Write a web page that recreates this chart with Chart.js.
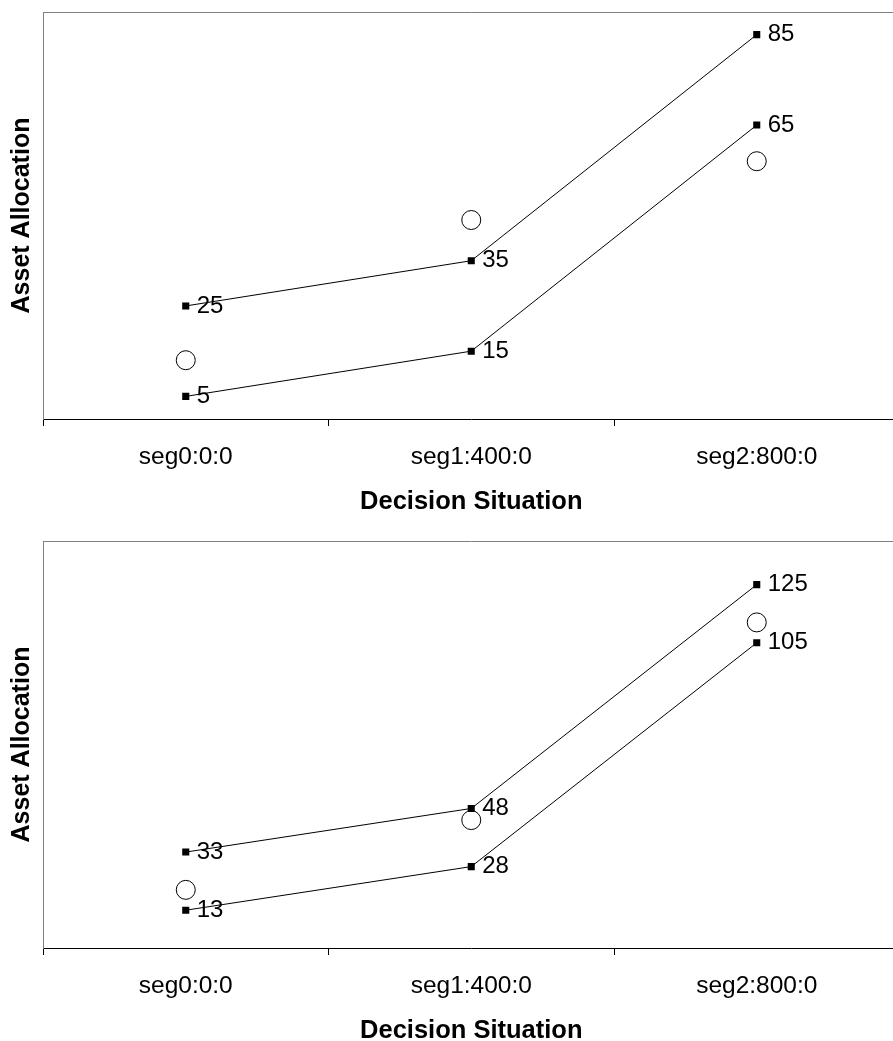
<!DOCTYPE html>
<html><head><meta charset="utf-8">
<script src="https://cdn.jsdelivr.net/npm/chart.js@4.4.1/dist/chart.umd.min.js"></script>
<style>
html,body{margin:0;padding:0;background:#fff;overflow:hidden;width:893px;height:1041px;position:relative;}
.panel{position:absolute;left:0;width:910px;height:529px;}
#p1{top:0px}
#p2{top:529.4px}
</style></head><body>
<div class="panel" id="p1"><canvas id="c1"></canvas></div>
<div class="panel" id="p2"><canvas id="c2"></canvas></div>
<script>
// ---- data ----
const categories = ['seg0:0:0', 'seg1:400:0', 'seg2:800:0'];
const xTitle = 'Decision Situation';
const yTitle = 'Asset Allocation';

const topUpper = [25, 35, 85];
const topLower = [5, 15, 65];
const topCircles = [13, 44, 57];
const topYMax = 90;

const bottomUpper = [33, 48, 125];
const bottomLower = [13, 28, 105];
const bottomCircles = [20, 44, 112];
const bottomYMax = 140;

// ---- chart ----
const FONT = "'Liberation Sans', Arial, sans-serif";
Chart.defaults.font.family = FONT;
Chart.defaults.color = '#000';

const framePlugin = {
  id: 'frameTop',
  afterDraw(chart) {
    const {ctx, chartArea: a} = chart;
    ctx.save();
    ctx.strokeStyle = '#808080';
    ctx.lineWidth = 1;
    const y = Math.round(a.top) + 0.5;
    ctx.beginPath();
    ctx.moveTo(a.left, y);
    ctx.lineTo(a.right, y);
    ctx.stroke();
    ctx.restore();
  }
};

const labelPlugin = {
  id: 'valueLabels',
  afterDatasetsDraw(chart) {
    const ctx = chart.ctx;
    ctx.save();
    ctx.font = '24px ' + FONT;
    ctx.fillStyle = '#000';
    ctx.textAlign = 'left';
    ctx.textBaseline = 'middle';
    chart.data.datasets.forEach((ds, i) => {
      if (!ds.showValues) return;
      const meta = chart.getDatasetMeta(i);
      meta.data.forEach((pt, j) => {
        ctx.fillText(String(ds.data[j]), pt.x + 11, pt.y);
      });
    });
    ctx.restore();
  }
};

function lineSet(data) {
  return {
    type: 'line',
    data: data,
    showValues: true,
    borderColor: '#000',
    borderWidth: 1,
    fill: false,
    tension: 0,
    pointStyle: 'rect',
    pointRadius: 5,
    pointBorderWidth: 0,
    pointBackgroundColor: '#000',
    pointBorderColor: '#000',
    order: 1
  };
}

function circleSet(data) {
  return {
    type: 'line',
    data: data,
    showLine: false,
    pointStyle: 'circle',
    pointRadius: 9.5,
    pointBorderWidth: 1,
    pointBorderColor: '#000',
    pointBackgroundColor: '#fff',
    order: 2
  };
}

function makeChart(id, upper, lower, circles, yMax) {
  return new Chart(document.getElementById(id), {
    type: 'line',
    data: {
      labels: categories,
      datasets: [lineSet(upper), lineSet(lower), circleSet(circles)]
    },
    options: {
      responsive: true,
      maintainAspectRatio: false,
      animation: false,
      layout: {padding: {top: 12, right: 5, left: 0, bottom: 0}},
      plugins: {legend: {display: false}, tooltip: {enabled: false}},
      scales: {
        x: {
          type: 'category',
          offset: true,
          grid: {display: true, drawOnChartArea: false, drawTicks: true, tickLength: 7, color: '#000', offset: true},
          border: {display: true, color: '#000', width: 1},
          ticks: {padding: 16.4, font: {size: 24.5}, color: '#000', maxRotation: 0, autoSkip: false},
          title: {display: true, text: xTitle, color: '#000', font: {size: 25.5, weight: 'bold'}, padding: {top: 0, bottom: 11.5}},
          afterFit(s) { s.height = 110; }
        },
        y: {
          min: 0,
          max: yMax,
          ticks: {display: false},
          grid: {display: false},
          border: {display: true, color: '#808080', width: 1},
          title: {display: true, text: yTitle, color: '#000', font: {size: 25, weight: 'bold'}, padding: {top: 7, bottom: 0}},
          afterFit(s) { s.width = 43; }
        }
      }
    },
    plugins: [framePlugin, labelPlugin]
  });
}

makeChart('c1', topUpper, topLower, topCircles, topYMax);
makeChart('c2', bottomUpper, bottomLower, bottomCircles, bottomYMax);
</script>
</body></html>
